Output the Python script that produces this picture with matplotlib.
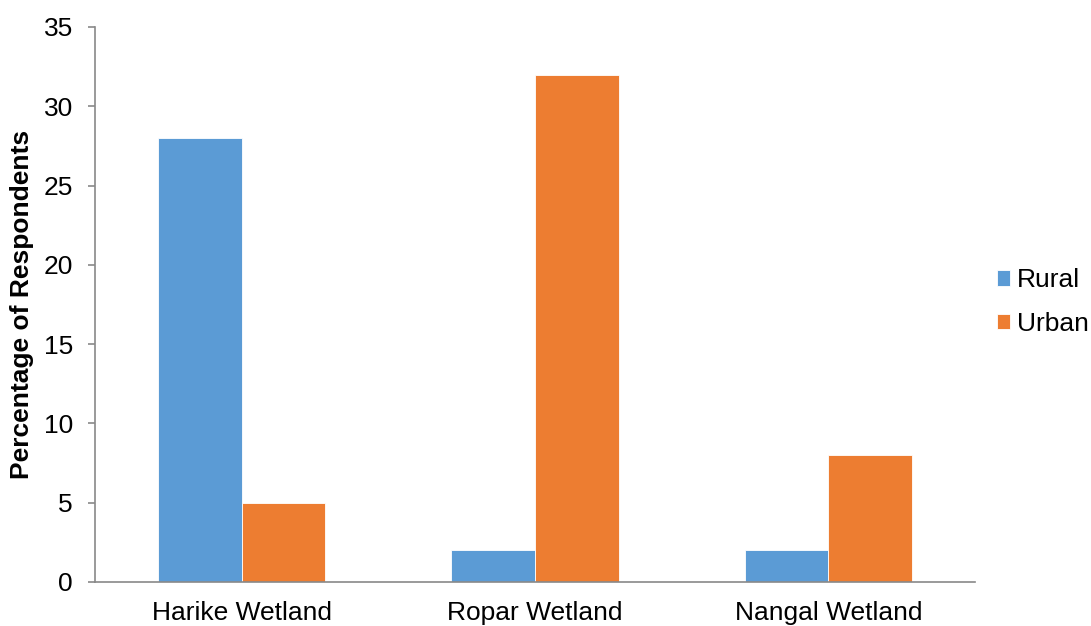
import numpy as np
import matplotlib.pyplot as plt

plt.rcParams['font.family'] = ['Liberation Sans', 'DejaVu Sans']

# data
sites = ['Harike Wetland', 'Ropar Wetland', 'Nangal Wetland']
rural = [28, 2, 2]
urban = [5, 32, 8]

fig = plt.figure(figsize=(10.91, 6.26), dpi=100)
ax = fig.add_axes([0.0871, 0.0703, 0.8066, 0.8866])

x = np.arange(len(sites))
w = 0.285
ax.bar(x - w / 2, rural, w, color='#5B9BD5', edgecolor='white', linewidth=0.6, label='Rural')
ax.bar(x + w / 2, urban, w, color='#ED7D31', edgecolor='white', linewidth=0.6, label='Urban')

ax.set_xlim(-0.5, 2.5)
ax.set_ylim(0, 35)
ax.set_yticks(range(0, 36, 5))
ax.set_xticks(x)
ax.set_xticklabels(sites)

for s in ['top', 'right']:
    ax.spines[s].set_visible(False)
for s in ['left', 'bottom']:
    ax.spines[s].set_color('#898989')
    ax.spines[s].set_linewidth(1.2)

ax.tick_params(axis='y', length=5, width=1.2, color='#898989', labelsize=19, pad=11)
ax.tick_params(axis='x', length=0, labelsize=19, pad=14)
ax.set_ylabel('Percentage of Respondents', fontsize=19, fontweight='bold', labelpad=7)

ax.legend(loc='center left', bbox_to_anchor=(0.998, 0.504), frameon=False, fontsize=19,
          handlelength=0.5, handleheight=0.5, handletextpad=0.27, labelspacing=0.75)

fig.savefig('out.png', dpi=100)
